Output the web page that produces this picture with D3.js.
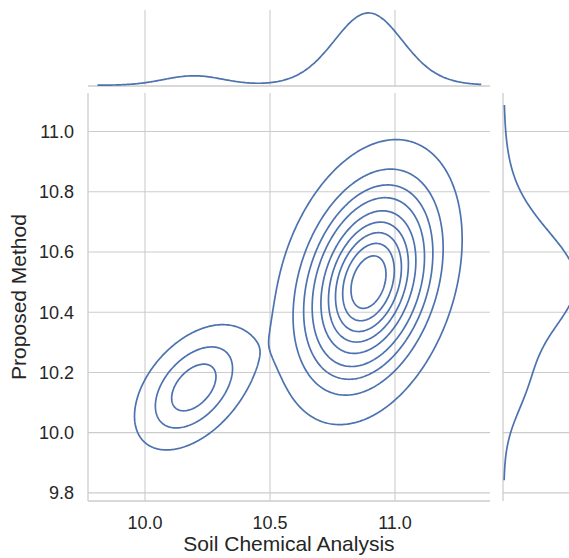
<!DOCTYPE html>
<html>
<head>
<meta charset="utf-8">
<script src="https://cdn.jsdelivr.net/npm/d3@7"></script>
<style>
  html, body { margin: 0; padding: 0; background: #fff; }
  svg { display: block; }
  text { font-family: "Liberation Sans", Arial, sans-serif; fill: #262626; }
</style>
</head>
<body>
<svg id="chart" width="569" height="558"></svg>
<script>
// ---- data ----
const xLabel = "Soil Chemical Analysis";
const yLabel = "Proposed Method";
const xTicks = [10.0, 10.5, 11.0];
const yTicks = [9.8, 10.0, 10.2, 10.4, 10.6, 10.8, 11.0];
const xDomain = [9.772, 11.38];
const yDomain = [9.773, 11.128];
// density clusters estimated from the contours / marginals
const clusterNames = ["core", "spread", "low group"];
const clusterMeanX  = [10.895, 10.89, 10.195];
const clusterMeanY  = [10.50, 10.50, 10.15];
const clusterSdX    = [0.125, 0.17, 0.12];
const clusterSdY    = [0.155, 0.215, 0.105];
const clusterCorr   = [0.3, 0.3, 0.46];
const clusterWeight = [0.50, 0.40, 0.10];
// iso-proportion contour levels (seaborn levels=10, thresh=0.05)
const massLevels = [0.05, 0.1556, 0.2611, 0.3667, 0.4722, 0.5778, 0.6833, 0.7889, 0.8944];
// marginal curve support
const xSupport = [9.81, 11.345];
const ySupport = [9.842, 11.088];

// ---- layout ----
const main = {left: 88, right: 490, top: 93, bottom: 501};
const margX = {top: 10, bottom: 86};
const margY = {left: 503, right: 579};
const lineColor = "#4c72b0";
const gridColor = "#cccccc";

const svg = d3.select("#chart");
const x = d3.scaleLinear().domain(xDomain).range([main.left, main.right]);
const y = d3.scaleLinear().domain(yDomain).range([main.bottom, main.top]);

// density functions
function dens2(px, py) {
  let s = 0;
  for (let k = 0; k < clusterWeight.length; k++) {
    const sx = clusterSdX[k], sy = clusterSdY[k], r = clusterCorr[k];
    const dx = (px - clusterMeanX[k]) / sx, dy = (py - clusterMeanY[k]) / sy;
    const q = (dx*dx - 2*r*dx*dy + dy*dy) / (1 - r*r);
    s += clusterWeight[k] * Math.exp(-0.5*q) / (2*Math.PI*sx*sy*Math.sqrt(1 - r*r));
  }
  return s;
}
function densX(px) {
  let s = 0;
  for (let k = 0; k < clusterWeight.length; k++) {
    const z = (px - clusterMeanX[k]) / clusterSdX[k];
    s += clusterWeight[k] * Math.exp(-0.5*z*z) / (Math.sqrt(2*Math.PI)*clusterSdX[k]);
  }
  return s;
}
function densY(py) {
  let s = 0;
  for (let k = 0; k < clusterWeight.length; k++) {
    const z = (py - clusterMeanY[k]) / clusterSdY[k];
    s += clusterWeight[k] * Math.exp(-0.5*z*z) / (Math.sqrt(2*Math.PI)*clusterSdY[k]);
  }
  return s;
}

// ---- grid lines ----
const g = svg.append("g");
g.selectAll(".vx").data(xTicks).join("line")
  .attr("x1", d => x(d)).attr("x2", d => x(d))
  .attr("y1", main.top).attr("y2", main.bottom)
  .attr("stroke", gridColor).attr("stroke-width", 1.1);
g.selectAll(".hy").data(yTicks).join("line")
  .attr("x1", main.left).attr("x2", main.right)
  .attr("y1", d => y(d)).attr("y2", d => y(d))
  .attr("stroke", gridColor).attr("stroke-width", 1.1);
g.selectAll(".mvx").data(xTicks).join("line")
  .attr("x1", d => x(d)).attr("x2", d => x(d))
  .attr("y1", margX.top).attr("y2", margX.bottom)
  .attr("stroke", gridColor).attr("stroke-width", 1.1);
g.selectAll(".mhy").data(yTicks).join("line")
  .attr("x1", margY.left).attr("x2", margY.right)
  .attr("y1", d => y(d)).attr("y2", d => y(d))
  .attr("stroke", gridColor).attr("stroke-width", 1.1);

// spines
g.append("line").attr("x1", main.left).attr("x2", main.left)
  .attr("y1", main.top).attr("y2", main.bottom).attr("stroke", gridColor).attr("stroke-width", 1.3);
g.append("line").attr("x1", main.left).attr("x2", main.right)
  .attr("y1", main.bottom).attr("y2", main.bottom).attr("stroke", gridColor).attr("stroke-width", 1.3);
g.append("line").attr("x1", main.left).attr("x2", main.right)
  .attr("y1", margX.bottom).attr("y2", margX.bottom).attr("stroke", gridColor).attr("stroke-width", 1.3);
g.append("line").attr("x1", margY.left).attr("x2", margY.left)
  .attr("y1", main.top).attr("y2", main.bottom).attr("stroke", gridColor).attr("stroke-width", 1.3);

// ---- 2D contours ----
const nx = 320, ny = 320;
const gx0 = xDomain[0], gx1 = xDomain[1], gy0 = yDomain[0], gy1 = yDomain[1];
const dxg = (gx1 - gx0) / (nx - 1), dyg = (gy1 - gy0) / (ny - 1);
const values = new Float64Array(nx * ny);
for (let j = 0; j < ny; j++) {
  for (let i = 0; i < nx; i++) {
    values[j*nx + i] = dens2(gx0 + i*dxg, gy0 + j*dyg);
  }
}
const sortedDesc = Array.from(values).sort((a, b) => b - a);
const total = d3.sum(sortedDesc);
const cum = [];
let acc = 0;
for (const v of sortedDesc) { acc += v; cum.push(acc / total); }
const thresholds = massLevels.map(l => {
  const idx = d3.bisectLeft(cum, 1 - l);
  return sortedDesc[Math.min(idx, sortedDesc.length - 1)];
});
const contours = d3.contours().size([nx, ny]).thresholds(thresholds)(values);
const proj = d3.geoTransform({
  point(px, py) { this.stream.point(x(gx0 + (px - 0.5)*dxg), y(gy0 + (py - 0.5)*dyg)); }
});
const path = d3.geoPath(proj);
svg.append("g").selectAll("path").data(contours).join("path")
  .attr("d", path).attr("fill", "none")
  .attr("stroke", lineColor).attr("stroke-width", 1.7).attr("stroke-linejoin", "round");

// ---- marginals ----
const xs = d3.range(0, 201).map(i => xSupport[0] + (xSupport[1] - xSupport[0]) * i / 200);
const xd = xs.map(v => ({v, d: densX(v)}));
const maxXd = d3.max(xd, p => p.d);
const mx = d3.scaleLinear().domain([-0.01*maxXd, 1.04*maxXd]).range([margX.bottom, margX.top]);
svg.append("path").datum(xd)
  .attr("d", d3.line().x(p => x(p.v)).y(p => mx(p.d)).curve(d3.curveBasis))
  .attr("fill", "none").attr("stroke", lineColor).attr("stroke-width", 1.7);

const ys = d3.range(0, 201).map(i => ySupport[0] + (ySupport[1] - ySupport[0]) * i / 200);
const yd = ys.map(v => ({v, d: densY(v)}));
const maxYd = d3.max(yd, p => p.d);
const my = d3.scaleLinear().domain([-0.01*maxYd, 1.04*maxYd]).range([margY.left, margY.right]);
svg.append("path").datum(yd)
  .attr("d", d3.line().x(p => my(p.d)).y(p => y(p.v)).curve(d3.curveBasis))
  .attr("fill", "none").attr("stroke", lineColor).attr("stroke-width", 1.7);

// ---- tick labels ----
svg.append("g").selectAll("text").data(xTicks).join("text")
  .attr("x", d => x(d)).attr("y", 529)
  .attr("text-anchor", "middle").attr("font-size", 18)
  .text(d => d3.format(".1f")(d));
svg.append("g").selectAll("text").data(yTicks).join("text")
  .attr("x", 74).attr("y", d => y(d) + 6.5)
  .attr("text-anchor", "end").attr("font-size", 18)
  .text(d => d3.format(".1f")(d));

// ---- axis labels ----
svg.append("text").attr("x", (main.left + main.right)/2).attr("y", 551)
  .attr("text-anchor", "middle").attr("font-size", 21).text(xLabel);
svg.append("text").attr("transform", `translate(26,${(main.top + main.bottom)/2}) rotate(-90)`)
  .attr("text-anchor", "middle").attr("font-size", 21).text(yLabel);
</script>
</body>
</html>
